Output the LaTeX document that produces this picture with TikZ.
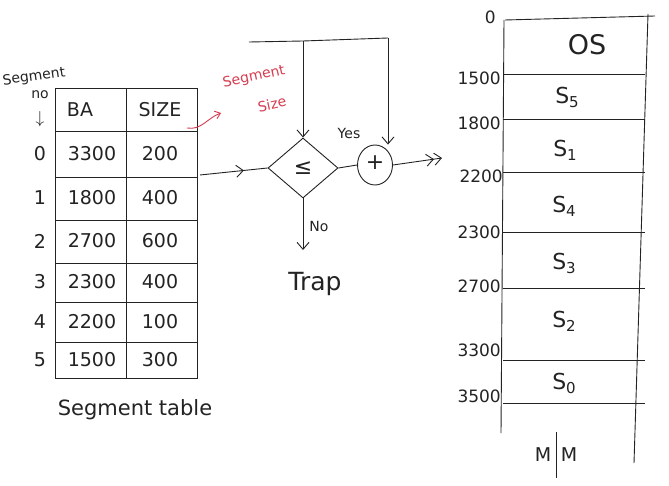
\documentclass[tikz,border=0pt]{standalone}
\usepackage{fontspec}
\setmainfont{DejaVu Sans}
\usetikzlibrary{shapes.geometric,arrows.meta,decorations.markings}
\definecolor{ink}{RGB}{35,35,35}
\definecolor{redink}{RGB}{215,60,80}
\newcommand{\subd}[1]{\raisebox{-4pt}{\fontsize{15}{15}\selectfont #1}}
\tikzset{
  x=1pt,y=-1pt,
  pen/.style={draw=ink,line width=0.9pt},
  txt/.style={text=ink,font=\fontsize{19}{19}\selectfont,inner sep=0pt},
  mem/.style={text=ink,font=\fontsize{17}{17}\selectfont,inner sep=0pt},
  seg/.style={text=ink,font=\fontsize{22}{22}\selectfont,inner sep=0pt},
  small/.style={text=ink,font=\fontsize{14}{14}\selectfont,inner sep=0pt},
  redtxt/.style={text=redink,font=\fontsize{14}{14}\selectfont,inner sep=0pt},
  arr/.style={pen,-{Straight Barb[length=7pt,width=12pt]}},
  midarr/.style={pen,postaction={decorate},decoration={markings,mark=at position 0.65 with {\arrow{Straight Barb[length=7pt,width=12pt]}}}},
}
\begin{document}
\begin{tikzpicture}
\fill[white] (0,0) rectangle (669,486);
\useasboundingbox (0,0) rectangle (669,486);

% ---------- segment table ----------
\draw[pen] (55,88) rectangle (197,378);
\draw[pen] (126,88) -- (126,378);
\foreach \y in {131,177,220,263,302,342} \draw[pen] (55,\y) -- (197,\y);
\node[txt] (hba) at (80,110) {BA};
\node[txt] (hsz) at (160,110) {SIZE};
\foreach \i/\y/\ba/\sz in {0/154/3300/200,1/198/1800/400,2/241/2700/600,3/282/2300/400,4/322/2200/100,5/360/1500/300}{
  \node[txt] (n\i) at (40,\y) {\i};
  \node[txt] (ba\i) at (92,\y) {\ba};
  \node[txt] (sz\i) at (160,\y) {\sz};
}
\node[small,rotate=8] (segl) at (34,77) {Segment};
\node[small] (nol) at (40,95) {no};
\node[txt,font=\fontsize{16}{16}\selectfont] (darr) at (40,119) {$\downarrow$};
\node[txt,font=\fontsize{21}{21}\selectfont] (ttl) at (135,410) {Segment table};

% red annotation
\node[redtxt,rotate=12] (ssz) at (254,77) {Segment};
\node[redtxt,rotate=12] (ssz2) at (272,104) {Size};
\coordinate (szend) at (187,128);
\coordinate (szhead) at (221,113);
\draw[draw=redink,line width=0.9pt,-{Straight Barb[length=5pt,width=8pt]}] (szend) to[out=-10,in=200] (szhead);

% ---------- comparator ----------
\node[pen,diamond,minimum width=70pt,minimum height=60pt,inner sep=0pt] (cmp) at (303,168) {};
\node[txt,font=\fontsize{22}{22}\selectfont] (le) at (303,168) {≤};
\node[pen,ellipse,minimum width=35pt,minimum height=40pt,inner sep=0pt] (add) at (375,165) {};
\node[txt,font=\fontsize{22}{22}\selectfont] (plus) at (375,163) {+};

\coordinate (tl) at (249,42);
\coordinate (tj) at (303,41);
\coordinate (tr) at (388,38);
\draw[pen] (tl) -- (tj) -- (tr);
\draw[arr] (tj) -- (cmp.north);
\draw[arr] (tr) -- (add.north -| tr);

\coordinate (tabout) at (200,175);
\draw[midarr] (tabout) -- (cmp.west);
\draw[pen] (cmp.east) -- (add.west);
\node[small] (yes) at (349,133) {Yes};
\coordinate (outend) at (442,158);
\draw[pen,-{Straight Barb[length=7pt,width=12pt]Straight Barb[length=7pt,width=12pt]}] (add.east) -- (outend);

\coordinate (noend) at (303,250);
\draw[arr] (cmp.south) -- (noend);
\node[small] (no) at (319,226) {No};
\node[txt,font=\fontsize{25}{25}\selectfont] (trap) at (315,284) {Trap};

% ---------- main memory ----------
\draw[pen] (505,20) -- (655,16);
\draw[pen] (504,20) -- (501,433);
\draw[pen] (648,14) -- (634,463);
\foreach \y in {74,119,172,232,288,360,403} \draw[pen] (503,\y) -- (645,\y);
\node[mem,anchor=east] (a0) at (496,17) {0};
\node[mem,anchor=east] (a1) at (501,78) {1500};
\node[mem,anchor=east] (a2) at (501,123) {1800};
\node[mem,anchor=east] (a3) at (503,176) {2200};
\node[mem,anchor=east] (a4) at (501,232) {2300};
\node[mem,anchor=east] (a5) at (501,286) {2700};
\node[mem,anchor=east] (a6) at (501,350) {3300};
\node[mem,anchor=east] (a7) at (501,396) {3500};

\node[seg,font=\fontsize{27}{27}\selectfont] (os) at (587,45) {OS};
\node[seg] (s5) at (567,97) {S\subd{5}};
\node[seg] (s1) at (565,150) {S\subd{1}};
\node[seg] (s4) at (564,206) {S\subd{4}};
\node[seg] (s3) at (564,263) {S\subd{3}};
\node[seg] (s2) at (564,321) {S\subd{2}};
\node[seg] (s0) at (564,383) {S\subd{0}};

\node[txt] (mm1) at (543,455) {M};
\node[txt] (mm2) at (569,455) {M};
\draw[pen] (556,432) -- (556,478);
\end{tikzpicture}
\end{document}
